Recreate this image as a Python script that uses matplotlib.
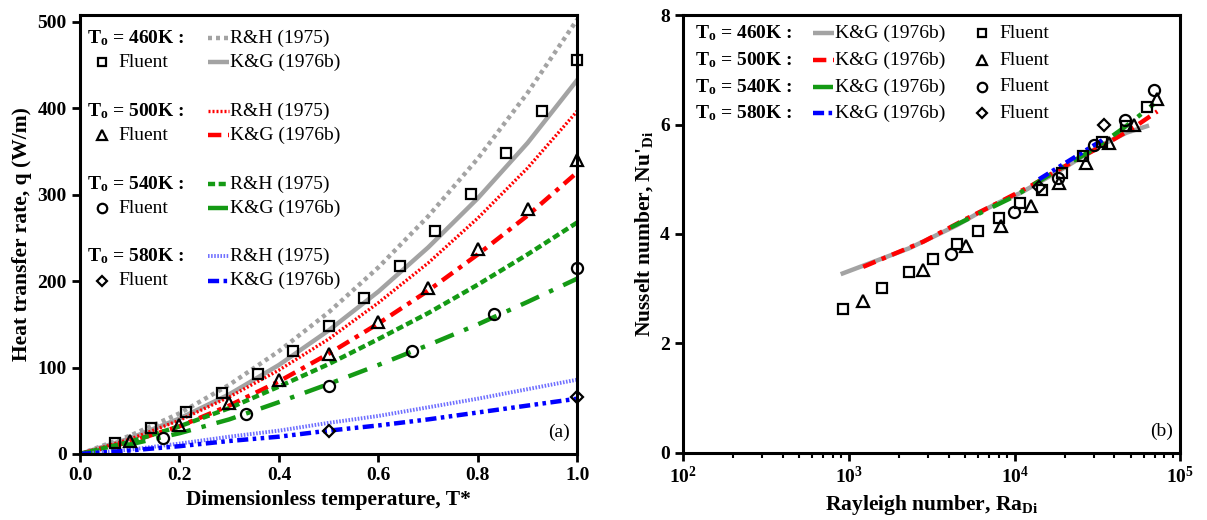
"""
Heat transfer rate vs T* (a) and Nusselt vs Rayleigh (b)
"""

import numpy as np
import matplotlib
matplotlib.use('Agg')
import matplotlib.pyplot as plt
from matplotlib.ticker import MultipleLocator, LogLocator, NullFormatter

plt.rcParams['font.family'] = ['Liberation Serif', 'DejaVu Serif']
plt.rcParams['mathtext.fontset'] = 'custom'
plt.rcParams['mathtext.rm'] = 'Liberation Serif'
plt.rcParams['mathtext.it'] = 'Liberation Serif:italic'
plt.rcParams['mathtext.bf'] = 'Liberation Serif:bold'

# ==================== data (a) ====================
t_curve = [0.0, 0.1, 0.2, 0.3, 0.4, 0.5, 0.6, 0.7, 0.8, 0.9, 1.0]
rh_460 = [0, 21, 47, 80, 119, 164, 216, 275, 342, 418, 503]
kg_460 = [0, 18, 41, 69, 103, 143, 188, 239, 296, 360, 433]
rh_500 = [0, 17, 39, 66, 97, 133, 175, 221, 273, 331, 397]
kg_500 = [0, 14, 32, 56, 84, 116, 151, 189, 231, 276, 326]
rh_540 = [0, 14, 32, 53, 78, 104, 133, 163, 196, 231, 268]
kg_540 = [0, 11, 24, 40, 60, 81, 103, 126, 150, 176, 203]
rh_580 = [0, 5, 12, 20, 27, 36, 44, 54, 64, 75, 86]
kg_580 = [0, 4, 9, 15, 20, 27, 33, 40, 48, 56, 64]

t_fl_460 = [0.071, 0.143, 0.214, 0.286, 0.357, 0.429, 0.5, 0.571, 0.643, 0.714, 0.786, 0.857, 0.929, 1.0]
q_fl_460 = [13, 30, 48, 70, 92, 119, 148, 181, 217, 258, 301, 348, 397, 456]
t_fl_500 = [0.1, 0.2, 0.3, 0.4, 0.5, 0.6, 0.7, 0.8, 0.9, 1.0]
q_fl_500 = [15, 33, 59, 86, 116, 153, 192, 237, 283, 340]
t_fl_540 = [0.167, 0.333, 0.5, 0.667, 0.833, 1.0]
q_fl_540 = [19, 46, 79, 119, 162, 215]
t_fl_580 = [0.5, 1.0]
q_fl_580 = [26, 66]

# ==================== data (b) ====================
ra_fl_460 = [918, 1581, 2312, 3228, 4480, 6010, 8070, 10840, 14550, 19230, 25800, 33700, 47200, 62800]
nu_fl_460 = [2.63, 3.02, 3.30, 3.55, 3.81, 4.06, 4.29, 4.57, 4.81, 5.11, 5.42, 5.69, 5.98, 6.32]
ra_fl_500 = [1219, 2812, 5117, 8300, 12530, 18500, 26900, 37200, 52500, 72500]
nu_fl_500 = [2.77, 3.34, 3.78, 4.15, 4.52, 4.93, 5.29, 5.67, 5.99, 6.46]
ra_fl_540 = [4110, 9840, 18200, 30000, 46000, 69500]
nu_fl_540 = [3.63, 4.40, 5.02, 5.62, 6.08, 6.64]
ra_fl_580 = [14030, 34800]
nu_fl_580 = [4.86, 5.99]

nu_kg_460 = [3.28, 3.55, 3.74, 3.95, 4.16, 4.38, 4.58, 4.75, 4.97, 5.18, 5.42, 5.63, 5.85, 5.97]
nu_kg_500 = [3.40, 3.86, 4.28, 4.60, 4.88, 5.18, 5.45, 5.68, 5.95, 6.24]
nu_kg_540 = [4.12, 4.68, 5.17, 5.55, 5.95, 6.38]
nu_kg_580 = [5.00, 5.74]

temps = ['460K', '500K', '540K', '580K']

# ==================== styles ====================
GRAY = '#a3a3a3'
RED = '#ff0000'
GREEN = '#149a14'
BLUE = '#0000ff'
LBLUE = '#6f6fff'

rh_styles = [
    dict(color=GRAY, lw=3.2, ls=(0, (0.9, 0.9))),
    dict(color=RED, lw=2.4, ls=(0, (0.6, 0.6))),
    dict(color=GREEN, lw=3.2, ls=(0, (1.6, 0.8))),
    dict(color=LBLUE, lw=2.8, ls=(0, (0.4, 0.4))),
]
kg_styles = [
    dict(color=GRAY, lw=3.2, ls='-'),
    dict(color=RED, lw=3.2, ls=(0, (3.0, 1.5, 1.0, 1.5))),
    dict(color=GREEN, lw=3.2, ls=(0, (4.5, 2.5, 1.0, 2.5))),
    dict(color=BLUE, lw=3.2, ls=(0, (2.5, 1.0, 0.8, 1.0, 0.8, 1.0))),
]
markers = ['s', '^', 'o', 'D']
msizes = [6.8, 8, 8, 6]

TICK_FS = 14
LABEL_FS = 15.5
LEG_FS = 14


def style_axes(ax):
    for sp in ax.spines.values():
        sp.set_linewidth(2.2)
    ax.tick_params(which='major', direction='out', length=6, width=2, labelsize=TICK_FS)
    ax.tick_params(which='minor', direction='out', length=3.5, width=1.5)
    for lab in ax.get_xticklabels() + ax.get_yticklabels():
        lab.set_fontweight('bold')


def t0_label(temp):
    return r'T$_{\mathbf{o}}$' + ' = ' + temp + ' :'


def draw_marker(ax, x, y, i):
    ax.plot([x], [y], marker=markers[i], ms=msizes[i] * 0.85, mfc='none', mec='black',
            mew=1.6, transform=ax.transAxes, clip_on=False)


def draw_handle(ax, x0, x1, y, style):
    ax.plot([x0, x1], [y, y], transform=ax.transAxes, clip_on=False, solid_capstyle='butt',
            dash_capstyle='butt', **style)


fig = plt.figure(figsize=(12.07, 5.2), dpi=100)
ax1 = fig.add_axes([0.0663, 0.127, 0.412, 0.844])
ax2 = fig.add_axes([0.566, 0.129, 0.412, 0.842])

# ==================== (a) ====================
rh_all = [rh_460, rh_500, rh_540, rh_580]
kg_all = [kg_460, kg_500, kg_540, kg_580]
t_fl = [t_fl_460, t_fl_500, t_fl_540, t_fl_580]
q_fl = [q_fl_460, q_fl_500, q_fl_540, q_fl_580]

for i in range(4):
    ax1.plot(t_curve, rh_all[i], dash_capstyle='butt', **rh_styles[i])
    ax1.plot(t_curve, kg_all[i], dash_capstyle='butt', **kg_styles[i])
for i in range(4):
    ax1.plot(t_fl[i], q_fl[i], ls='none', marker=markers[i], ms=msizes[i], mfc='none',
             mec='black', mew=1.6, clip_on=False, zorder=5)

ax1.set_xlim(0, 1.0)
ax1.set_ylim(0, 508)
ax1.xaxis.set_major_locator(MultipleLocator(0.2))
ax1.yaxis.set_major_locator(MultipleLocator(100))
ax1.xaxis.set_major_formatter(plt.FuncFormatter(lambda v, p: f'{v:.1f}'))
ax1.set_xlabel('Dimensionless temperature, T*', fontsize=LABEL_FS, fontweight='bold')
ax1.set_ylabel('Heat transfer rate, q (W/m)', fontsize=LABEL_FS, fontweight='bold')
style_axes(ax1)
ax1.text(0.985, 0.03, '(a)', transform=ax1.transAxes, ha='right', va='bottom', fontsize=LEG_FS)

# legend (a)
row_t = [0.948, 0.781, 0.615, 0.450]
dy = 0.055
for i, temp in enumerate(temps):
    y0 = row_t[i]
    y1 = y0 - dy
    ax1.text(0.014, y0, t0_label(temp), transform=ax1.transAxes, ha='left', va='center',
             fontsize=LEG_FS, fontweight='bold')
    draw_marker(ax1, 0.045, y1, i)
    ax1.text(0.078, y1, 'Fluent', transform=ax1.transAxes, ha='left', va='center', fontsize=LEG_FS)
    draw_handle(ax1, 0.258, 0.300, y0, rh_styles[i])
    ax1.text(0.302, y0, 'R&H (1975)', transform=ax1.transAxes, ha='left', va='center', fontsize=LEG_FS)
    draw_handle(ax1, 0.258, 0.300, y1, kg_styles[i])
    ax1.text(0.302, y1, 'K&G (1976b)', transform=ax1.transAxes, ha='left', va='center', fontsize=LEG_FS)

# ==================== (b) ====================
ra_fl = [ra_fl_460, ra_fl_500, ra_fl_540, ra_fl_580]
nu_fl = [nu_fl_460, nu_fl_500, nu_fl_540, nu_fl_580]
nu_kg = [nu_kg_460, nu_kg_500, nu_kg_540, nu_kg_580]

for i in range(4):
    ax2.plot(ra_fl[i], nu_kg[i], dash_capstyle='butt', **kg_styles[i])
for i in range(4):
    ax2.plot(ra_fl[i], nu_fl[i], ls='none', marker=markers[i], ms=msizes[i], mfc='none',
             mec='black', mew=1.6, zorder=5)

ax2.set_xscale('log')
ax2.set_xlim(1e2, 1e5)
ax2.set_ylim(0, 8)
ax2.yaxis.set_major_locator(MultipleLocator(2))
ax2.xaxis.set_major_locator(LogLocator(base=10, numticks=10))
ax2.xaxis.set_minor_locator(LogLocator(base=10, subs=np.arange(2, 10), numticks=10))
ax2.xaxis.set_minor_formatter(NullFormatter())
ax2.xaxis.set_major_formatter(plt.FuncFormatter(
    lambda v, p: r'$\mathbf{10^{%d}}$' % int(round(np.log10(v)))))
ax2.set_xlabel(r'Rayleigh number, Ra$_{\mathbf{Di}}$', fontsize=LABEL_FS, fontweight='bold')
ax2.set_ylabel(r"Nusselt number, Nu'$_{\mathbf{Di}}$", fontsize=LABEL_FS, fontweight='bold')
style_axes(ax2)
ax2.text(0.985, 0.03, '(b)', transform=ax2.transAxes, ha='right', va='bottom', fontsize=LEG_FS)

# legend (b)
rows_b = [0.959, 0.897, 0.836, 0.776]
for i, temp in enumerate(temps):
    y0 = rows_b[i]
    ax2.text(0.024, y0, t0_label(temp), transform=ax2.transAxes, ha='left', va='center',
             fontsize=LEG_FS, fontweight='bold')
    draw_handle(ax2, 0.262, 0.304, y0, kg_styles[i])
    ax2.text(0.306, y0, 'K&G (1976b)', transform=ax2.transAxes, ha='left', va='center', fontsize=LEG_FS)
    draw_marker(ax2, 0.600, y0, i)
    ax2.text(0.635, y0, 'Fluent', transform=ax2.transAxes, ha='left', va='center', fontsize=LEG_FS)

fig.savefig('out.png', dpi=100)
